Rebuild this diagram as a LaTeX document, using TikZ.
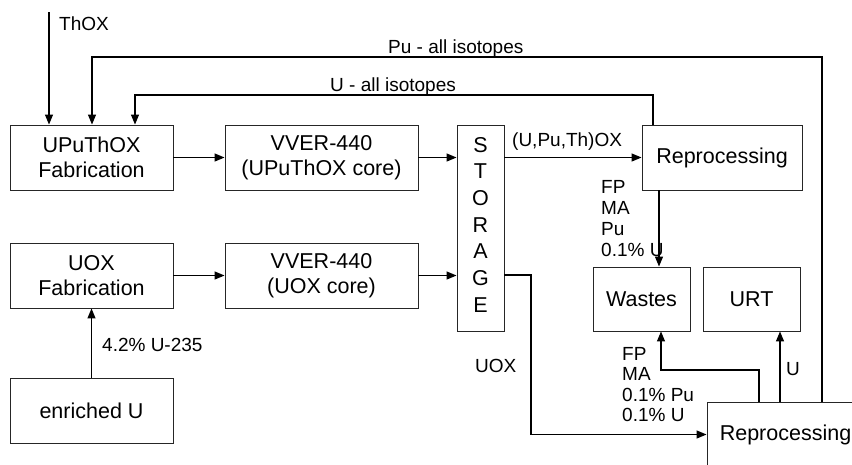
\documentclass[tikz,border=0pt]{standalone}
\usepackage{fontspec}
\setmainfont{Liberation Sans}
\usetikzlibrary{arrows.meta}
\newcommand\mainsz{\fontsize{21.5pt}{25pt}\selectfont}
\newcommand\lblsz{\fontsize{19pt}{21pt}\selectfont}
\begin{document}
\begin{tikzpicture}[x=1pt,y=-1pt,
  box/.style={draw=black!85,line width=0.9pt,inner sep=0pt,align=center,font=\mainsz},
  lbl/.style={inner sep=0pt,anchor=base west,font=\lblsz},
  arr/.style={line width=1.2pt,-{Triangle[length=10pt,width=8pt]}},
  conn/.style={line width=1.2pt}]
\useasboundingbox (0,0) rectangle (852,464);
\clip (0,0) rectangle (852,464);
% boxes
\node[box,minimum width=163pt,minimum height=65pt] (fab1) at (91.5,157.5) {UPuThOX\\Fabrication};
\node[box,minimum width=193pt,minimum height=65pt] (vver1) at (321.5,157.5) {VVER-440\\(UPuThOX core)};
\node[box,minimum width=47pt,minimum height=206pt] (stor) at (480.5,228) {};
\foreach \l [count=\i] in {S,T,O,R,A,G,E}
  \node[inner sep=0pt,anchor=base,font=\mainsz] (st\i) at (480.5,{152+26.7*(\i-1)}) {\l};
\node[box,minimum width=160pt,minimum height=65pt] (rep1) at (722,157.5) {Reprocessing};
\node[box,minimum width=163pt,minimum height=65pt] (fab2) at (91.5,275.5) {UOX\\Fabrication};
\node[box,minimum width=193pt,minimum height=65pt] (vver2) at (321.5,275.5) {VVER-440\\(UOX core)};
\node[box,minimum width=163pt,minimum height=65pt] (enr) at (91.5,410.5) {enriched U};
\node[box,minimum width=97pt,minimum height=64pt] (wastes) at (641.5,299) {Wastes};
\node[box,minimum width=97pt,minimum height=64pt] (urt) at (751.5,299) {URT};
\node[box,minimum width=157pt,minimum height=65pt] (rep2) at (785.5,434.5) {Reprocessing};
% coordinates
\coordinate (thox) at (49,12);
\coordinate (pu1) at (822,57);
\coordinate (pu2) at (92,57);
\coordinate (u1) at (653,95);
\coordinate (u2) at (135,95);
\coordinate (uox1) at (531,275);
\coordinate (wa) at (659,0);
\coordinate (wb1) at (759,370);
\coordinate (wb2) at (661,370);
\coordinate (ur) at (780,0);
% connectors
\draw[arr] (thox) -- (thox |- fab1.north);
\draw[arr] (rep2.north -| pu1) -- (pu1) -- (pu2) -- (pu2 |- fab1.north);
\draw[arr] (rep1.north -| u1) -- (u1) -- (u2) -- (u2 |- fab1.north);
\draw[arr] (fab1.east) -- (vver1.west);
\draw[arr] (vver1.east) -- (vver1.east -| stor.west);
\draw[arr] (stor.east |- rep1.west) -- (rep1.west);
\draw[arr] (fab2.east) -- (vver2.west);
\draw[arr] (vver2.east) -- (vver2.east -| stor.west);
\draw[arr] (enr.north) -- (fab2.south);
\draw[arr] (stor.east |- uox1) -- (uox1) |- (rep2.west);
\draw[arr] (rep1.south -| wa) -- (wastes.north -| wa);
\draw[arr] (rep2.north -| wb1) -- (wb1) -- (wb2) -- (wastes.south -| wb2);
\draw[arr] (rep2.north -| ur) -- (urt.south -| ur);
% labels
\node[lbl] (lthox) at (59,30) {ThOX};
\node[lbl] (lpu) at (388,53) {Pu - all isotopes};
\node[lbl] (lu) at (330,91) {U - all isotopes};
\node[lbl] (lox) at (512,146) {(U,Pu,Th)OX};
\node[lbl] (lw1) at (601,193) {FP};
\node[lbl] (lw2) at (601,214) {MA};
\node[lbl] (lw3) at (601,235) {Pu};
\node[lbl] (lw4) at (601,256) {0.1\% U};
\node[lbl] (lenr) at (102,351) {4.2\% U-235};
\node[lbl] (luox) at (475,372) {UOX};
\node[lbl] (lr1) at (622,360) {FP};
\node[lbl] (lr2) at (622,380.5) {MA};
\node[lbl] (lr3) at (622,401) {0.1\% Pu};
\node[lbl] (lr4) at (622,421.5) {0.1\% U};
\node[lbl] (lurt) at (786,375) {U};
\end{tikzpicture}
\end{document}
